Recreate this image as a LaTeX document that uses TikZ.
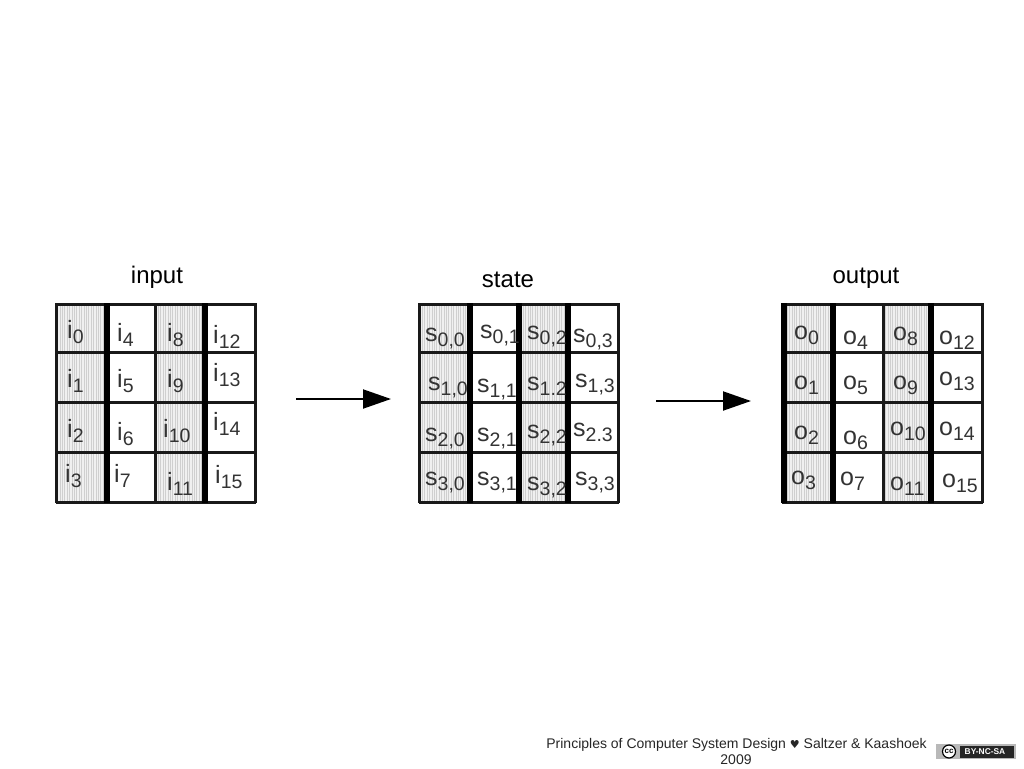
\documentclass[tikz,border=0pt]{standalone}
\usepackage{fontspec}
\setmainfont{Liberation Sans}
\newfontfamily\symfont{DejaVu Sans}
\usetikzlibrary{arrows.meta,patterns.meta}
\newcommand{\sublbl}[2]{{\fontsize{25}{25}\selectfont #1}\raisebox{-5pt}{\fontsize{19.5}{19.5}\selectfont #2}}
\begin{document}
\begin{tikzpicture}[
  x=1pt, y=-1pt,
  >={Triangle[length=28pt,width=19pt]},
  title/.style={anchor=base, inner sep=0pt, font=\fontsize{24}{24}\selectfont},
  celltext/.style={anchor=base west, inner sep=0pt, text=black!80},
  shade/.style={fill=gray!12, postaction={pattern={Lines[angle=90,distance=2.4pt,line width=0.8pt]}, pattern color=gray!38}},
  thinrule/.style={draw=black!90, line width=3pt},
  thickrule/.style={draw=black, line width=5.5pt},
  flow/.style={->, draw=black, line width=2pt},
  foot/.style={anchor=base, inner sep=0pt, font=\fontsize{14}{14}\selectfont, text=black!85}
]
  \useasboundingbox (0,0) rectangle (1024,768);
  % shaded columns
  \foreach \xa/\xb in {56/107,155/205,419/470,519/568,783/833,883/931}
    \fill[shade] (\xa,304) rectangle (\xb,502);
  % horizontal rules
  \foreach \xa/\xb in {56/256,419/619,782/983}
    \foreach \yy in {304,352,402,452,502}
      \draw[thinrule] (\xa,\yy) -- (\xb,\yy);
  % vertical rules
  \foreach \xx in {56,155,255,419,618,883,982}
    \draw[thinrule] (\xx,303) -- (\xx,503);
  \foreach \xx in {107,205,470,519,568,784,833,931}
    \draw[thickrule] (\xx,303) -- (\xx,503);
  % titles
  \node[title] (inputtitle) at (157,283) {input};
  \node[title] (statetitle) at (508,287) {state};
  \node[title] (outputtitle) at (866,283) {output};
  % input cells
  \foreach \xx/\yy/\sub in {67/338/0,117/341/4,167/341/8,213/343/12,
      67/387/1,117/387/5,167/387/9,213/381/13,
      67/437/2,117/440/6,163/437/10,213/430/14,
      65/482/3,114/482/7,167/490/11,215/483/15}
    \node[celltext] (i\sub) at (\xx,\yy) {\sublbl{i}{\sub}};
  % state cells
  \foreach \xx/\yy/\sub/\nm in {425/341/{0,0}/s00,480/338/{0,1}/s01,527/339/{0,2}/s02,573/342/{0,3}/s03,
      428/390/{1,0}/s10,477/392/{1,1}/s11,527/390/{1.2}/s12,575/387/{1,3}/s13,
      425/441/{2,0}/s20,477/441/{2,1}/s21,527/438/{2,2}/s22,573/436/{2.3}/s23,
      425/485/{3,0}/s30,477/485/{3,1}/s31,527/490/{3,2}/s32,575/485/{3,3}/s33}
    \node[celltext] (\nm) at (\xx,\yy) {\sublbl{s}{\sub}};
  % output cells
  \foreach \xx/\yy/\sub in {794/339/0,843/344/4,893/340/8,939/344/12,
      794/389/1,843/389/5,893/389/9,939/385/13,
      794/439/2,843/444/6,890/435/10,939/435/14,
      791/484/3,840/485/7,890/490/11,942/487/15}
    \node[celltext] (o\sub) at (\xx,\yy) {\sublbl{o}{\sub}};
  % arrows
  \coordinate (arrowa) at (296,399);
  \coordinate (arrowb) at (391,399);
  \coordinate (arrowc) at (656,401);
  \coordinate (arrowd) at (751,401);
  \draw[flow] (arrowa) -- (arrowb);
  \draw[flow] (arrowc) -- (arrowd);
  % footer
  \node[foot] (footline) at (736.5,748) {Principles of Computer System Design {\symfont\fontsize{11}{11}\selectfont ♥} Saltzer \& Kaashoek};
  \node[foot] (footyear) at (736,764) {2009};
  \fill[gray!55] (936,744) rectangle (1016,759);
  \fill[black!85] (960,746) rectangle (1014,758);
  \node[circle, draw=black, fill=white, line width=1.2pt, minimum size=13pt, inner sep=0pt, font=\bfseries\fontsize{8}{8}\selectfont] (ccmark) at (949,751.5) {cc};
  \node[inner sep=0pt, text=white, font=\bfseries\fontsize{8.4}{8.4}\selectfont] (cclabel) at (985,751.5) {BY-NC-SA};
\end{tikzpicture}
\end{document}
